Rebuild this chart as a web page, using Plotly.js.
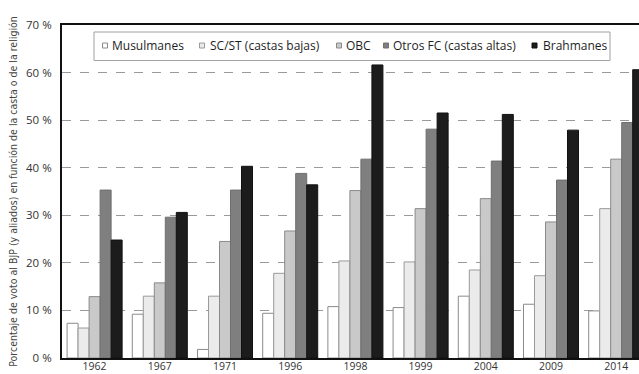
<!DOCTYPE html>
<html><head><meta charset="utf-8">
<script src="https://cdn.plot.ly/plotly-3.0.1.min.js"></script>
<style>html,body{margin:0;padding:0;overflow:hidden;background:#fff}</style>
</head><body><div id="chart"></div>
<script>
var years = ['1962','1967','1971','1996','1998','1999','2004','2009','2014'];
var seriesNames = ['Musulmanes','SC/ST (castas bajas)','OBC','Otros FC (castas altas)','Brahmanes'];
var musulmanes = [7.3, 9.2, 1.8, 9.4, 10.8, 10.6, 13.0, 11.3, 9.9];
var scst       = [6.3, 13.0, 13.0, 17.8, 20.4, 20.2, 18.5, 17.3, 31.4];
var obc        = [12.9, 15.8, 24.5, 26.7, 35.2, 31.4, 33.5, 28.6, 41.8];
var otrosFC    = [35.3, 29.6, 35.3, 38.8, 41.8, 48.1, 41.4, 37.4, 49.5];
var brahmanes  = [24.8, 30.6, 40.3, 36.4, 61.6, 51.5, 51.2, 47.9, 60.6];
var yTickVals = [0,10,20,30,40,50,60,70];
var yTickText = ['0 %','10 %','20 %','30 %','40 %','50 %','60 %','70 %'];

var vals = [musulmanes, scst, obc, otrosFC, brahmanes];
var fills = ['#ffffff','#ebebeb','#c9c9c9','#7f7f7f','#1c1c1c'];
var lines = ['#8a8a8a','#9a9a9a','#8a8a8a','#6f6f6f','#111111'];
var traces = vals.map(function(v,i){
  return {type:'bar', name:seriesNames[i], x:years, y:v, showlegend:false,
    marker:{color:fills[i], line:{color:lines[i], width:1}}, hoverinfo:'skip'};
});

// geometry of the plot area in pixels (layout is wider than the window; the right part is clipped as in the reference)
var W = 720, H = 374, ML = 62, MR = 6, MT = 25, MB = 16.3;
var PW = W - ML - MR, PH = H - MT - MB;
function px(x){ return (x - ML) / PW; }
function py(y){ return (H - MB - y) / PH; }

// legend drawn by hand (compact, as in the reference)
var legSquareX = [102.5, 199.5, 336.5, 383.5, 532];
var legTextX   = [110, 207.5, 344, 391, 540.5];
var legY = 45.5;
var shapes = [{type:'rect', xref:'paper', yref:'paper', x0:px(94), x1:px(610), y0:py(32), y1:py(60.5),
  fillcolor:'#ffffff', line:{color:'#a0a0a0', width:1}, layer:'above'}];
var annotations = [];
seriesNames.forEach(function(n,i){
  shapes.push({type:'rect', xref:'paper', yref:'paper', x0:px(legSquareX[i]), x1:px(legSquareX[i]+5),
    y0:py(legY+2.5), y1:py(legY-2.5), fillcolor:fills[i], line:{color:lines[i], width:1}, layer:'above'});
  annotations.push({xref:'paper', yref:'paper', x:px(legTextX[i]), y:py(legY), xanchor:'left', yanchor:'middle',
    text:n, showarrow:false, font:{family:'Open Sans, sans-serif', size:12, color:'#1e1e1e'}});
});

var tickFont = {family:'Open Sans, sans-serif', size:11.5, color:'#333'};
var layout = {
  width:W, height:H,
  margin:{l:ML, r:MR, t:MT, b:MB},
  paper_bgcolor:'#fff', plot_bgcolor:'#fff',
  barmode:'group', bargap:0.156, bargroupgap:0,
  font:{family:'Open Sans, sans-serif', color:'#333'},
  showlegend:false,
  shapes:shapes, annotations:annotations,
  xaxis:{type:'category', range:[-0.5, 9.5], showgrid:false, ticks:'',
    showline:true, linecolor:'#111', linewidth:2, mirror:true,
    tickfont:{family:'Open Sans, sans-serif', size:10.5, color:'#333'}, ticklabelstandoff:-3, fixedrange:true},
  yaxis:{range:[0,70], tickvals:yTickVals, ticktext:yTickText,
    showgrid:true, gridcolor:'#9a9a9a', griddash:'dash', gridwidth:1,
    showline:true, linecolor:'#111', linewidth:2, mirror:true, ticks:'',
    zeroline:false, ticklabelstandoff:6,
    tickfont:tickFont,
    title:{text:'Porcentaje de voto al BJP (y aliados) en función de la casta o de la religión',
      font:{family:'Liberation Sans Narrow, DejaVu Sans Condensed, sans-serif', size:10.5, color:'#444'}, standoff:6}}
};
Plotly.newPlot('chart', traces, layout, {displayModeBar:false, staticPlot:true});
</script></body></html>
